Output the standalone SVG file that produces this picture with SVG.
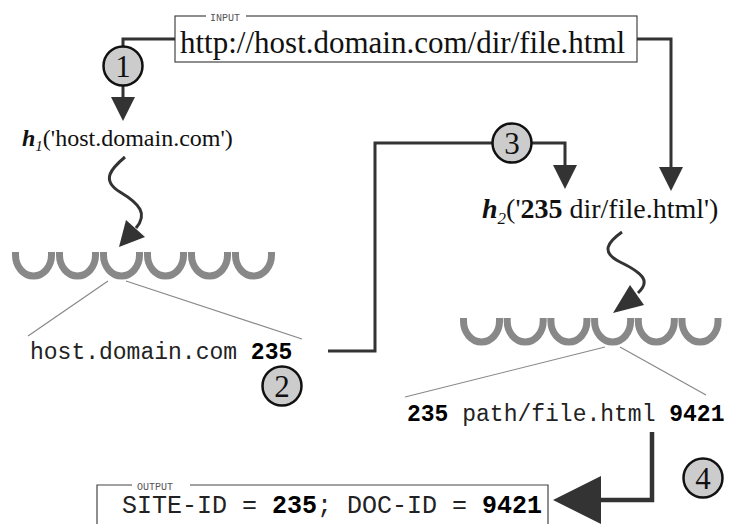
<svg xmlns="http://www.w3.org/2000/svg" width="729" height="524" viewBox="0 0 729 524">
  <style>
    .wire { fill: none; stroke: #333; stroke-width: 3; }
    .thick { fill: none; stroke: #333; stroke-width: 4.5; }
    .head { fill: #333; stroke: none; }
    .step circle { fill: #ccc; stroke: #111; stroke-width: 2.5; }
    .step text { font-family: "Liberation Serif", serif; font-size: 31px; text-anchor: middle; fill: #111; }
    .cups path { fill: none; stroke: #888; stroke-width: 7; }
    .lead { stroke: #888; stroke-width: 1.2; }
    .frame { fill: none; stroke: #444; stroke-width: 1.2; }
    .tag { font-family: "Liberation Mono", monospace; font-size: 10px; fill: #555; }
    .serif { font-family: "Liberation Serif", serif; fill: #111; }
    .mono { font-family: "Liberation Mono", monospace; fill: #222; }
    .b { font-weight: bold; fill: #000; }
  </style>

  <!-- input URL box -->
  <g id="input">
    <rect class="frame" x="175" y="16" width="462" height="46"/>
    <rect x="206" y="10" width="40" height="12" fill="#fff"/>
    <text class="tag" x="210" y="21">INPUT</text>
    <text class="serif" x="180" y="53" font-size="31">http://host.domain.com/dir/file.html</text>
  </g>

  <!-- first hash call -->
  <g id="h1">
    <text class="serif" x="22" y="146" font-size="24"><tspan font-style="italic" font-weight="bold">h</tspan><tspan font-style="italic" font-size="15" dy="5">1</tspan><tspan dy="-5">('host.domain.com')</tspan></text>
  </g>

  <!-- second hash call -->
  <g id="h2">
    <text class="serif" x="482" y="218" font-size="28"><tspan font-style="italic" font-weight="bold">h</tspan><tspan font-style="italic" font-size="17" dy="6">2</tspan><tspan dy="-6">('</tspan><tspan font-weight="bold">235</tspan> dir/file.html')</text>
  </g>

  <!-- first hash table: six buckets -->
  <g id="table1" class="cups">
    <path d="M15.5,252 V255 A18,21 0 0 0 51.5,255 V252"/>
    <path d="M59.5,252 V255 A18,21 0 0 0 95.5,255 V252"/>
    <path d="M103.5,252 V255 A18,21 0 0 0 139.5,255 V252"/>
    <path d="M147.5,252 V255 A18,21 0 0 0 183.5,255 V252"/>
    <path d="M191.5,252 V255 A18,21 0 0 0 227.5,255 V252"/>
    <path d="M235.5,252 V255 A18,21 0 0 0 271.5,255 V252"/>
  </g>

  <!-- second hash table: six buckets -->
  <g id="table2" class="cups">
    <path d="M463.5,318 V321 A18,21 0 0 0 499.5,321 V318"/>
    <path d="M507.2,318 V321 A18,21 0 0 0 543.2,321 V318"/>
    <path d="M550.9,318 V321 A18,21 0 0 0 586.9,321 V318"/>
    <path d="M594.6,318 V321 A18,21 0 0 0 630.6,321 V318"/>
    <path d="M638.3,318 V321 A18,21 0 0 0 674.3,321 V318"/>
    <path d="M682,318 V321 A18,21 0 0 0 718,321 V318"/>
  </g>

  <!-- bucket contents -->
  <g id="entry1">
    <line class="lead" x1="108" y1="281" x2="28" y2="336"/>
    <line class="lead" x1="126" y1="281" x2="302" y2="339"/>
    <text class="mono" x="30" y="359" font-size="23">host.domain.com <tspan class="b">235</tspan></text>
  </g>

  <g id="entry2">
    <line class="lead" x1="605" y1="347" x2="405" y2="397"/>
    <line class="lead" x1="620" y1="347" x2="706" y2="395"/>
    <text class="mono" x="407" y="421" font-size="23"><tspan class="b">235</tspan> path/file.html <tspan class="b">9421</tspan></text>
  </g>

  <!-- output box, open at the bottom -->
  <g id="output">
    <path class="frame" d="M97,524 V485 H548 V524"/>
    <rect x="132" y="479" width="58" height="12" fill="#fff"/>
    <text class="tag" x="137" y="490">OUTPUT</text>
    <text class="mono" x="122" y="513" font-size="25">SITE-ID = <tspan class="b">235</tspan>; DOC-ID = <tspan class="b">9421</tspan></text>
  </g>

  <!-- connectors -->
  <g id="connectors">
    <path class="wire" d="M175,39 H123 V48"/>
    <path class="wire" d="M123,84 V98"/>
    <polygon class="head" points="111,97 135,97 123,121"/>

    <path class="wire" d="M637,39 H671 V168"/>
    <polygon class="head" points="659,167 683,167 671,191"/>

    <path class="wire" d="M328,351 H375 V143 H493"/>
    <path class="wire" d="M529,143 H565 V166"/>
    <polygon class="head" points="553,165 577,165 565,189"/>

    <path class="wire" d="M125,157 C112,168 100,180 120,192 C140,204 148,214 136,228"/>
    <polygon class="head" points="119,247 126,220 145,237"/>

    <path class="wire" d="M622,232 C608,242 600,252 620,262 C645,274 650,282 638,293"/>
    <polygon class="head" points="613,313 630,285 644,305"/>

    <path class="thick" d="M652,432 V500 H598"/>
    <polygon class="head" points="601,476 601,524 553,500"/>
  </g>

  <!-- step markers -->
  <g id="step1" class="step"><circle cx="123" cy="66" r="19.5"/><text x="123" y="77">1</text></g>
  <g id="step2" class="step"><circle cx="282" cy="386" r="19.5"/><text x="282" y="397">2</text></g>
  <g id="step3" class="step"><circle cx="512" cy="143" r="19.5"/><text x="512" y="154">3</text></g>
  <g id="step4" class="step"><circle cx="703" cy="478" r="19.5"/><text x="703" y="489">4</text></g>
</svg>
